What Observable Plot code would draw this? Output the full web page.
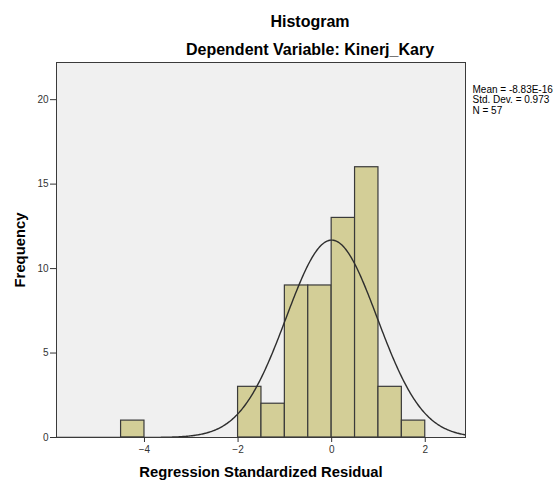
<!DOCTYPE html>
<html>
<head>
<meta charset="utf-8">
<script src="https://cdn.jsdelivr.net/npm/d3@7"></script>
<script src="https://cdn.jsdelivr.net/npm/@observablehq/plot@0.6"></script>
<style>
  html, body { margin: 0; padding: 0; background: #fff; overflow: hidden; }
  #chart svg { display: block; }
</style>
</head>
<body>
<div id="chart"></div>
<script>
// ---- data ----
const binStarts = [-4.5, -2.0, -1.5, -1.0, -0.5, 0.0, 0.5, 1.0, 1.5];
const counts    = [1, 3, 2, 9, 9, 13, 16, 3, 1];
const binWidth  = 0.5;
const meanValue = -8.83e-16;
const stdDev    = 0.973;
const nCases    = 57;
const statLabels = ["Mean = -8.83E-16", "Std. Dev. = 0.973", "N = 57"];
const xTicks = [-4, -2, 0, 2];
const yTicks = [0, 5, 10, 15, 20];
const titleText = "Histogram";
const subtitleText = "Dependent Variable: Kinerj_Kary";
const xLabel = "Regression Standardized Residual";
const yLabel = "Frequency";

const xDomain = [-5.88, 2.86];
const yDomain = [0, 22.2];

const bins = binStarts.map((x0, i) => ({x1: x0, x2: x0 + binWidth, count: counts[i]}));

// normal curve scaled to the histogram (N * bin width * pdf)
const curve = d3.range(xDomain[0], xDomain[1] + 0.001, 0.02).map(x => ({
  x,
  y: nCases * binWidth * Math.exp(-0.5 * ((x - meanValue) / stdDev) ** 2) / (stdDev * Math.sqrt(2 * Math.PI))
}));

const font = "Liberation Sans, Arial, Helvetica, sans-serif";

const chart = Plot.plot({
  width: 556,
  height: 481,
  marginLeft: 56,
  marginRight: 91,
  marginTop: 62,
  marginBottom: 44,
  style: {fontFamily: font, background: "#ffffff", overflow: "visible"},
  x: {domain: xDomain},
  y: {domain: yDomain},
  marks: [
    Plot.frame({fill: "#f0f0f0"}),
    Plot.rectY(bins, {x1: "x1", x2: "x2", y: "count", fill: "#d3ce97", stroke: "#3a3a3a", strokeWidth: 1.2, inset: 0}),
    Plot.line(curve, {x: "x", y: "y", stroke: "#2e2e2e", strokeWidth: 1.4, clip: true}),
    Plot.frame({stroke: "#3a3a3a", strokeWidth: 1}),
    Plot.axisX({ticks: xTicks, tickSize: 5, tickPadding: 3, fontSize: 10, label: null, color: "#333"}),
    Plot.axisY({ticks: yTicks, tickSize: 6, tickPadding: 2, fontSize: 10, label: null, color: "#333"}),
    Plot.text([titleText], {frameAnchor: "top", lineAnchor: "bottom", textAnchor: "middle", dx: 49, dy: -36, fontSize: 16, fontWeight: "bold", fill: "#000"}),
    Plot.text([subtitleText], {frameAnchor: "top", lineAnchor: "bottom", textAnchor: "middle", dx: 49, dy: -7.5, fontSize: 16, fontWeight: "bold", fill: "#000"}),
    Plot.text([yLabel], {frameAnchor: "left", textAnchor: "middle", lineAnchor: "middle", dx: -36, rotate: -90, fontSize: 14.8, fontWeight: "bold", fill: "#000"}),
    Plot.text([xLabel], {frameAnchor: "bottom", textAnchor: "middle", lineAnchor: "bottom", dy: 39, fontSize: 14.8, fontWeight: "bold", fill: "#000"}),
    Plot.text([statLabels.join("\n")], {frameAnchor: "top-right", lineAnchor: "top", textAnchor: "start", dx: 7, dy: 23, lineHeight: 1.05, fontSize: 10, fill: "#000"})
  ]
});
document.getElementById("chart").appendChild(chart);
</script>
</body>
</html>
